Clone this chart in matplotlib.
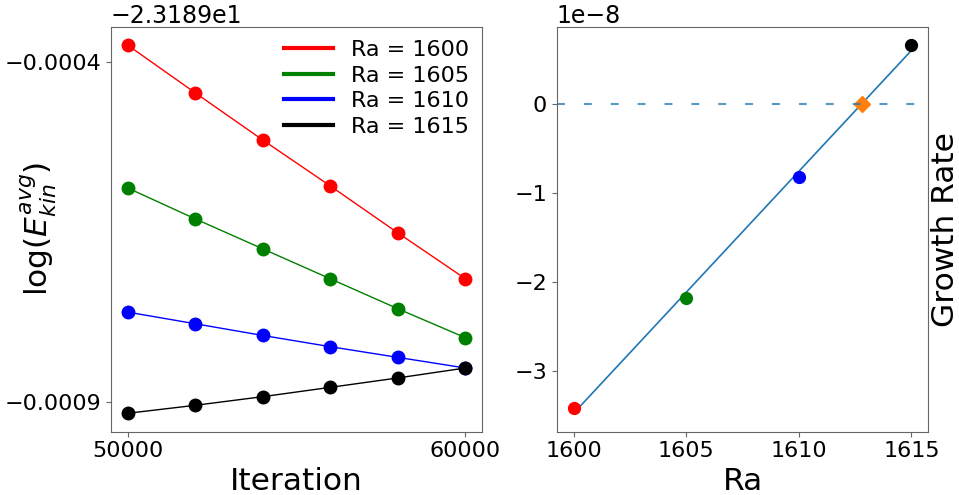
import numpy as np
import matplotlib
matplotlib.use("Agg")
import matplotlib.pyplot as plt
from matplotlib.lines import Line2D

iterations = [50000, 52000, 54000, 56000, 58000, 60000]
base = -23.189
ra_values = [1600, 1605, 1610, 1615]
colors = ["red", "green", "blue", "black"]
logE_1600 = [-0.0003755, -0.0004455, -0.0005148, -0.0005823, -0.0006512, -0.0007186]
logE_1605 = [-0.0005852, -0.0006306, -0.0006746, -0.0007186, -0.0007626, -0.0008051]
logE_1610 = [-0.0007675, -0.0007846, -0.0008018, -0.0008183, -0.0008340, -0.0008496]
logE_1615 = [-0.0009161, -0.0009044, -0.0008917, -0.0008780, -0.0008642, -0.0008496]
growth_rates = [-3.42e-8, -2.18e-8, -0.82e-8, 0.66e-8]

series = [logE_1600, logE_1605, logE_1610, logE_1615]

plt.rcParams["axes.edgecolor"] = "0.4"
plt.rcParams["xtick.color"] = "0.4"
plt.rcParams["ytick.color"] = "0.4"
plt.rcParams["xtick.labelcolor"] = "black"
plt.rcParams["ytick.labelcolor"] = "black"

fig = plt.figure(figsize=(9.59, 4.95), dpi=100)
W, H = 959, 495
ax1 = fig.add_axes([110.7 / W, 1 - 431.7 / H, (482.3 - 110.7) / W, (431.7 - 26.7) / H])
ax2 = fig.add_axes([556.7 / W, 1 - 431.7 / H, (928.3 - 556.7) / W, (431.7 - 26.7) / H])

for vals, c in zip(series, colors):
    y = [base + v for v in vals]
    ax1.plot(iterations, y, "-", color=c, lw=1.0)
    ax1.plot(iterations, y, "o", color=c, ms=9)

ax1.set_xticks([50000, 60000])
ax1.set_yticks([base - 0.0004, base - 0.0009])
ax1.ticklabel_format(axis="y", useOffset=base)
ax1.tick_params(labelsize=16)
ax1.yaxis.get_offset_text().set_fontsize(17)
ax1.set_xlabel("Iteration", fontsize=22.5)
ax1.set_ylabel(r"$\log(E_{kin}^{avg})$", fontsize=22.5)
ax1.yaxis.set_label_coords(-0.14, 0.5)
handles = [Line2D([0], [0], color=c, lw=3) for c in colors]
ax1.legend(handles, [f"Ra = {r}" for r in ra_values], loc="upper right",
           frameon=False, fontsize=16, handlelength=2.2, labelspacing=0.25,
           borderaxespad=0.2)

# Right panel
coef = np.polyfit(ra_values, growth_rates, 1)
ra_fit = np.array([ra_values[0], ra_values[-1]])
ax2.plot(ra_fit, np.polyval(coef, ra_fit), "-", color="C0", lw=1.2)
for r, g, c in zip(ra_values, growth_rates, colors):
    ax2.plot(r, g, "o", color=c, ms=8.5)
ra_crit = -coef[1] / coef[0]
ax2.plot(ra_crit, 0, "D", color="C1", ms=8.5)
ax2.axhline(0, ls=(0, (3.8, 9.1)), color="C0", alpha=0.75, lw=1.5)
ax2.set_xticks([1600, 1605, 1610, 1615])
ax2.tick_params(labelsize=16)
ax2.yaxis.get_offset_text().set_fontsize(17)
ax2.set_xlabel("Ra", fontsize=22.5)
ax2.yaxis.set_label_position("right")
ax2.set_ylabel("Growth Rate", fontsize=22.5)
ax2.yaxis.set_label_coords(1.008, 0.5)

fig.savefig("out.png", dpi=100)
